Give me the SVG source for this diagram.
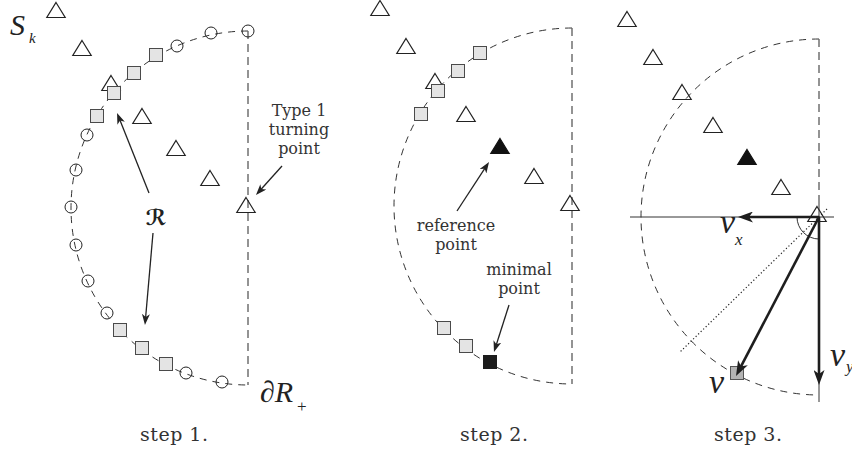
<svg xmlns="http://www.w3.org/2000/svg" width="852" height="453" viewBox="0 0 852 453">
<style>
.tri{fill:none;stroke:#222;stroke-width:1.2}
.trib{fill:#111;stroke:#111;stroke-width:1.2}
.sq{fill:#e4e4e4;stroke:#4a4a4a;stroke-width:1}
.sqb{fill:#1c1c1c;stroke:#1c1c1c;stroke-width:1}
.sqg{fill:#b4b4b4;stroke:#555;stroke-width:1}
.ci{fill:none;stroke:#222;stroke-width:1}
.arc{fill:none;stroke:#333;stroke-width:1;stroke-dasharray:7 6}
.vert{fill:none;stroke:#666;stroke-width:1.4;stroke-dasharray:8 5}
.arr{fill:none;stroke:#222;stroke-width:1.3;marker-end:url(#ah)}
.thick{fill:none;stroke:#1e1e1e;stroke-width:2.6;marker-end:url(#ahb)}
.axis{fill:none;stroke:#333;stroke-width:1}
.dot{fill:none;stroke:#222;stroke-width:1.2;stroke-dasharray:1.2 2.3}
.lbl{font-family:"DejaVu Serif","Liberation Serif",serif;font-size:16px;fill:#333;text-anchor:middle}
.step{font-family:"DejaVu Serif","Liberation Serif",serif;font-size:19px;fill:#333;text-anchor:middle}
.math{font-family:"Liberation Serif","Times New Roman",serif;font-style:italic;fill:#222}
.up{font-family:"Liberation Serif","Times New Roman",serif;fill:#222}
</style>
<defs>
<path id="tri" d="M0,-7.5 L9.2,7.5 L-9.2,7.5 Z"/>
<rect id="sq" x="-6.5" y="-6.5" width="13" height="13"/>
<marker id="ah" markerUnits="userSpaceOnUse" viewBox="0 0 11 8" refX="6" refY="4" markerWidth="11" markerHeight="8" orient="auto"><path d="M0,0 L11,4 L0,8 L3,4 Z" fill="#222"/></marker>
<marker id="ahb" markerUnits="userSpaceOnUse" viewBox="0 0 15 11" refX="7" refY="5.5" markerWidth="15" markerHeight="11" orient="auto"><path d="M0,0 L15,5.5 L0,11 L4,5.5 Z" fill="#1e1e1e"/></marker>
</defs>

<!-- Panel 1 -->
<g id="panel1" transform="translate(248,208)">
  <g id="p1-boundary">
    <path class="arc" d="M0,-177 A177,177 0 0 0 -177,0 A177,177 0 0 0 0,177"/>
    <path class="vert" d="M0,-177 V177"/>
  </g>
  <g id="p1-triangles">
    <use href="#tri" class="tri" x="-192" y="-198"/>
    <use href="#tri" class="tri" x="-166" y="-160"/>
    <use href="#tri" class="tri" x="-137" y="-125"/>
    <use href="#tri" class="tri" x="-106" y="-92"/>
    <use href="#tri" class="tri" x="-72" y="-60"/>
    <use href="#tri" class="tri" x="-38" y="-30"/>
    <use href="#tri" class="tri" x="-2" y="-3"/>
  </g>
  <g id="p1-circles">
    <circle class="ci" cx="0" cy="-177" r="6"/>
    <circle class="ci" cx="-37" cy="-175" r="6"/>
    <circle class="ci" cx="-71" cy="-162" r="6"/>
    <circle class="ci" cx="-161" cy="-73" r="6"/>
    <circle class="ci" cx="-172" cy="-38" r="6"/>
    <circle class="ci" cx="-177" cy="-1" r="6"/>
    <circle class="ci" cx="-172" cy="37" r="6"/>
    <circle class="ci" cx="-160" cy="73" r="6"/>
    <circle class="ci" cx="-141" cy="105" r="6"/>
    <circle class="ci" cx="-62" cy="165" r="6"/>
    <circle class="ci" cx="-26" cy="174" r="6"/>
  </g>
  <g id="p1-squares">
    <use href="#sq" class="sq" x="-92" y="-153"/>
    <use href="#sq" class="sq" x="-114" y="-135"/>
    <use href="#sq" class="sq" x="-134" y="-115"/>
    <use href="#sq" class="sq" x="-151" y="-92"/>
    <use href="#sq" class="sq" x="-128" y="122"/>
    <use href="#sq" class="sq" x="-106" y="140"/>
    <use href="#sq" class="sq" x="-82" y="156"/>
  </g>
</g>

<!-- Panel 2 -->
<g id="panel2" transform="translate(572,206)">
  <g id="p2-boundary">
    <path class="arc" d="M0,-178 A178,178 0 0 0 -178,0 A178,178 0 0 0 0,178"/>
    <path class="vert" d="M0,-178 V178"/>
  </g>
  <g id="p2-triangles">
    <use href="#tri" class="tri" x="-192" y="-198"/>
    <use href="#tri" class="tri" x="-166" y="-160"/>
    <use href="#tri" class="tri" x="-137" y="-125"/>
    <use href="#tri" class="tri" x="-106" y="-92"/>
    <use href="#tri" class="trib" x="-72" y="-60"/>
    <use href="#tri" class="tri" x="-38" y="-30"/>
    <use href="#tri" class="tri" x="-2" y="-3"/>
  </g>
  <g id="p2-squares">
    <use href="#sq" class="sq" x="-92" y="-153"/>
    <use href="#sq" class="sq" x="-114" y="-135"/>
    <use href="#sq" class="sq" x="-134" y="-115"/>
    <use href="#sq" class="sq" x="-151" y="-92"/>
    <use href="#sq" class="sq" x="-128" y="122"/>
    <use href="#sq" class="sq" x="-106" y="140"/>
    <use href="#sq" class="sqb" x="-82" y="156"/>
  </g>
</g>

<!-- Panel 3 -->
<g id="panel3" transform="translate(819,217)">
  <g id="p3-boundary">
    <path class="arc" d="M0,-178 A178,178 0 0 0 -178,0 A178,178 0 0 0 0,178"/>
    <path class="vert" d="M0,-178 V-17"/>
  </g>
  <g id="p3-triangles">
    <use href="#tri" class="tri" x="-192" y="-198"/>
    <use href="#tri" class="tri" x="-166" y="-160"/>
    <use href="#tri" class="tri" x="-137" y="-125"/>
    <use href="#tri" class="tri" x="-106" y="-92"/>
    <use href="#tri" class="trib" x="-72" y="-60"/>
    <use href="#tri" class="tri" x="-38" y="-30"/>
    <use href="#tri" class="tri" x="-2" y="-3"/>
  </g>
  <g id="p3-axes">
    <path class="axis" d="M-189,0 H15"/>
    <path class="axis" d="M0,-17 V185"/>
    <path class="dot" d="M8,-8 L-139,135"/>
    <path class="axis" d="M-22,0 A22,22 0 0 0 0,22"/>
  </g>
  <g id="p3-square">
    <use href="#sq" class="sqg" x="-82" y="156"/>
  </g>
</g>

<!-- Connectors -->
<g id="connectors">
  <path class="arr" d="M149,193 L118.9,117.6"/>
  <path class="arr" d="M153,233 L145.4,320"/>
  <path class="arr" d="M282,166 L259.3,191.3"/>
  <path class="arr" d="M457,211 L486.3,166.2"/>
  <path class="arr" d="M509,305 L495.5,347.2"/>
  <path class="thick" d="M819,217 L746,217"/>
  <path class="thick" d="M819,217 L819,377"/>
  <path class="thick" d="M819,217 L739.7,368.9"/>
</g>

<!-- Labels -->
<g id="labels">
  <text class="math" x="10" y="35" font-size="30">S</text>
  <text class="math" x="29" y="43" font-size="15">k</text>
  <text x="156" y="225" font-size="22" font-weight="bold" text-anchor="middle" font-family="'DejaVu Serif','DejaVu Sans',serif" fill="#222">ℛ</text>
  <text class="lbl" x="299" y="116">Type 1</text>
  <text class="lbl" x="299" y="135">turning</text>
  <text class="lbl" x="299" y="154">point</text>
  <text class="up" x="260" y="402" font-size="30">∂<tspan font-style="italic">R</tspan></text>
  <text class="up" x="297" y="412" font-size="17">+</text>
  <text class="lbl" x="456" y="231">reference</text>
  <text class="lbl" x="456" y="250">point</text>
  <text class="lbl" x="519" y="275">minimal</text>
  <text class="lbl" x="519" y="294">point</text>
  <text class="math" x="720" y="233" font-size="34">v</text>
  <text class="math" x="735" y="245" font-size="17">x</text>
  <text class="math" x="830" y="366" font-size="34">v</text>
  <text class="math" x="846" y="372" font-size="17">y</text>
  <text class="math" x="709" y="393" font-size="34">v</text>
  <text class="step" x="174" y="441" textLength="68" lengthAdjust="spacing">step 1.</text>
  <text class="step" x="494" y="441" textLength="68" lengthAdjust="spacing">step 2.</text>
  <text class="step" x="748" y="441" textLength="68" lengthAdjust="spacing">step 3.</text>
</g>
</svg>
